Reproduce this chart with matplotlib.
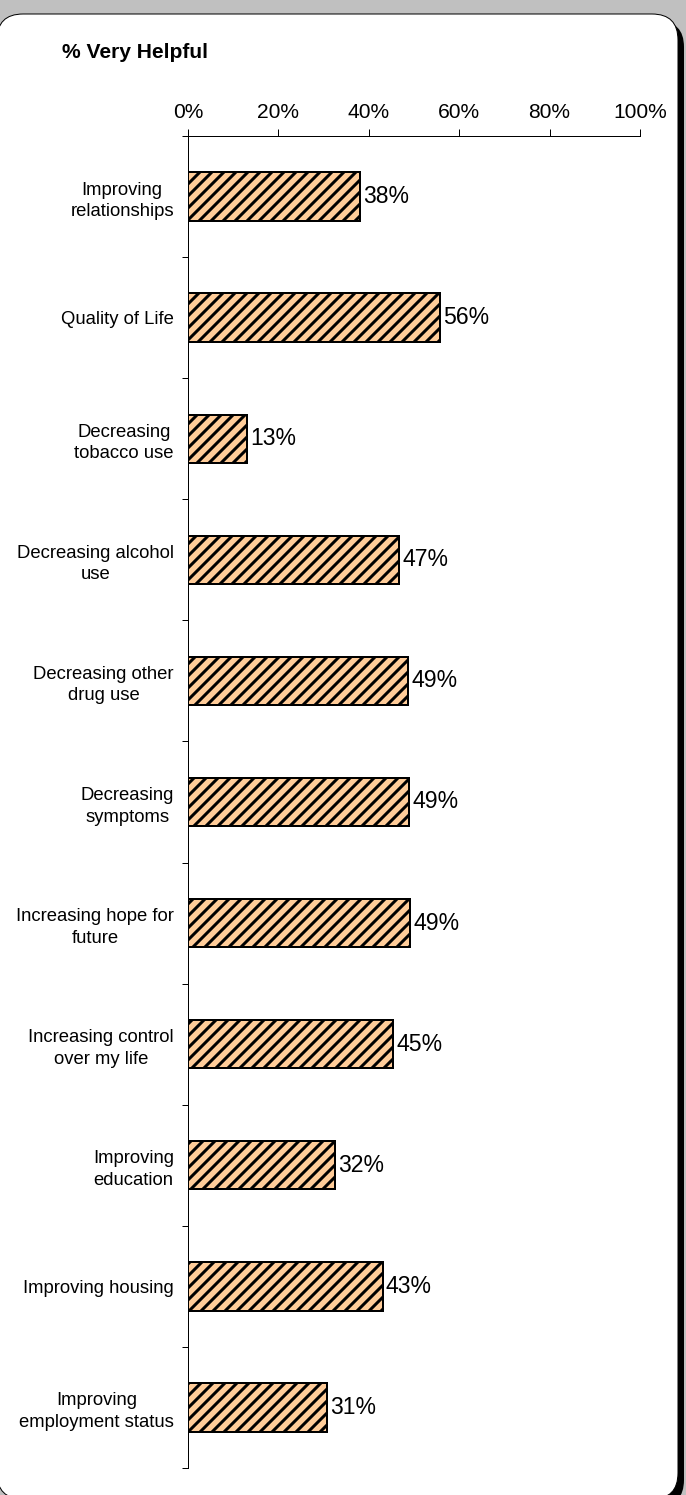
import numpy as np
import matplotlib
matplotlib.use('Agg')
import matplotlib.pyplot as plt
from matplotlib.patches import FancyBboxPatch

plt.rcParams['font.family'] = ['Liberation Sans', 'DejaVu Sans']
plt.rcParams['hatch.linewidth'] = 3.0

categories = ['Improving\nrelationships', 'Quality of Life', 'Decreasing\ntobacco use',
              'Decreasing alcohol\nuse', 'Decreasing other\ndrug use', 'Decreasing\nsymptoms',
              'Increasing hope for\nfuture', 'Increasing control\nover my life',
              'Improving\neducation', 'Improving housing', 'Improving\nemployment status']
values = [38.0, 55.8, 13.0, 46.7, 48.7, 48.9, 49.1, 45.4, 32.5, 43.1, 30.8]
xticks = [0, 20, 40, 60, 80, 100]

W, H, DPI = 686, 1495, 72
fig = plt.figure(figsize=(W / DPI, H / DPI), dpi=DPI)
fig.patch.set_facecolor('#c0c0c0')

# background frame in pixel units
bg = fig.add_axes([0, 0, 1, 1], zorder=0)
bg.set_xlim(0, W)
bg.set_ylim(H, 0)
bg.axis('off')
bg.add_patch(FancyBboxPatch((8, 21), 676, 1485, boxstyle='round,pad=0,rounding_size=26',
                            facecolor='black', edgecolor='none'))
bg.add_patch(FancyBboxPatch((-3, 14), 681, 1485, boxstyle='round,pad=0,rounding_size=26',
                            facecolor='white', edgecolor='black', linewidth=1))
bg.text(62, 52, '% Very Helpful', fontsize=21, fontweight='bold', va='center', ha='left')

left, right = 188 / W, 640 / W
top, bottom = 1 - 136 / H, 1 - 1468 / H
ax = fig.add_axes([left, bottom, right - left, top - bottom], zorder=1)
ax.patch.set_alpha(0)

n = len(categories)
y = np.arange(n) + 0.5
ax.barh(y, values, height=0.4, color='#ffcc99', edgecolor='black', linewidth=2, hatch='//')
for yi, v in zip(y, values):
    ax.text(v + 0.7, yi, f'{round(v)}%', va='center', ha='left', fontsize=23)

ax.set_xlim(0, 100)
ax.set_ylim(n, 0)
ax.xaxis.tick_top()
ax.set_xticks(xticks)
ax.set_xticklabels([f'{t}%' for t in xticks], fontsize=21)
ax.tick_params(axis='x', length=7, width=1, pad=7, direction='out')

ax.set_yticks(y)
ax.set_yticklabels(categories, fontsize=18.5, linespacing=1.35, multialignment='center')
ax.set_yticks(np.arange(n + 1), minor=True)
ax.tick_params(axis='y', which='major', length=0, pad=14)
ax.tick_params(axis='y', which='minor', length=6, width=1, direction='out')

for s in ['right', 'bottom']:
    ax.spines[s].set_visible(False)
for s in ['left', 'top']:
    ax.spines[s].set_linewidth(1)

fig.savefig('out.png', dpi=DPI, facecolor=fig.get_facecolor())
